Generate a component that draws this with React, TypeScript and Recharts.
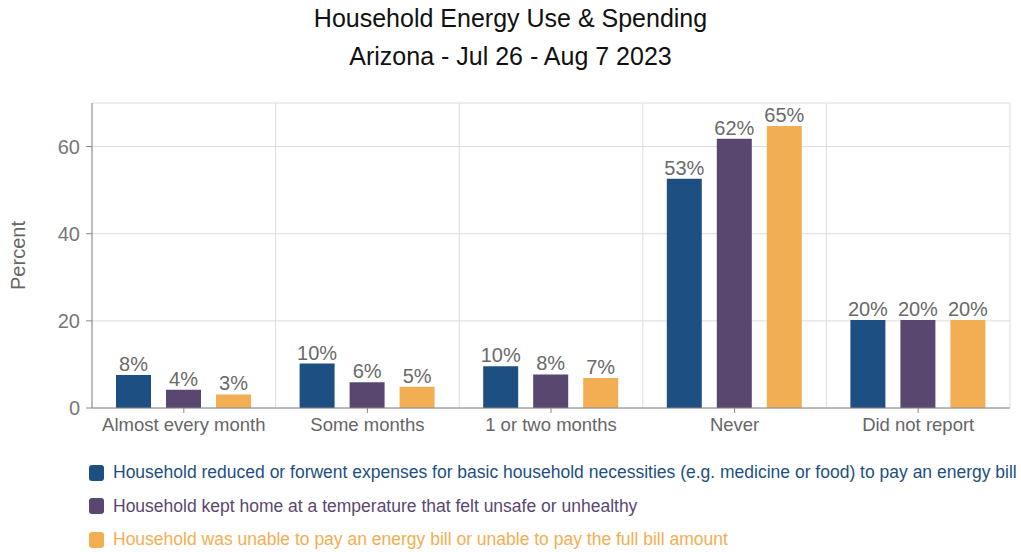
import { BarChart, Bar, XAxis, YAxis, CartesianGrid, LabelList } from 'recharts';

const categories = ['Almost every month', 'Some months', '1 or two months', 'Never', 'Did not report'];
const reducedExpenses = [7.6, 10.2, 9.6, 52.6, 20.2];
const unsafeTemperature = [4.2, 5.9, 7.7, 61.8, 20.2];
const unableToPay = [3.1, 4.9, 6.9, 64.7, 20.2];
const yTicks = [0, 20, 40, 60];

const seriesInfo = [
  { key: 'reduced', name: 'Household reduced or forwent expenses for basic household necessities (e.g. medicine or food) to pay an energy bill', color: '#1d4f83' },
  { key: 'unsafe', name: 'Household kept home at a temperature that felt unsafe or unhealthy', color: '#59476f' },
  { key: 'unable', name: 'Household was unable to pay an energy bill or unable to pay the full bill amount', color: '#f2ae53' },
];

const data = categories.map((c, i) => ({
  category: c,
  reduced: reducedExpenses[i],
  unsafe: unsafeTemperature[i],
  unable: unableToPay[i],
}));

const font = 'Liberation Sans, Arial, sans-serif';

export default function App() {
  return (
    <div style={{ position: 'absolute', left: 0, top: 0, width: 1021, height: 552, background: '#fff', fontFamily: font }}>
      <div style={{ position: 'absolute', top: 4, width: 1021, textAlign: 'center', fontSize: 25, color: '#111' }}>
        Household Energy Use &amp; Spending
      </div>
      <div style={{ position: 'absolute', top: 42, width: 1021, textAlign: 'center', fontSize: 25, color: '#111' }}>
        Arizona - Jul 26 - Aug 7 2023
      </div>
      <BarChart
        width={1021}
        height={552}
        data={data}
        margin={{ top: 103, right: 11, bottom: 114, left: 30 }}
        barSize={35}
        barGap={15}
      >
        <CartesianGrid
          stroke="#dcdcdc"
          verticalCoordinatesGenerator={({ offset }: any) =>
            categories.map((_, i) => offset.left + (i * offset.width) / categories.length).concat(offset.left + offset.width)
          }
        />
        <XAxis
          dataKey="category"
          height={30}
          stroke="#888"
          tickSize={5}
          tick={{ fill: '#666', fontSize: 18.5, fontFamily: font }}
          tickMargin={5}
        />
        <YAxis
          width={62}
          domain={[0, 70]}
          ticks={yTicks}
          stroke="#888"
          tickSize={6}
          tickMargin={6}
          tick={{ fill: '#777', fontSize: 20, fontFamily: font }}
          label={{ value: 'Percent', angle: -90, position: 'insideLeft', offset: -12, style: { fill: '#666', fontSize: 20, fontFamily: font, textAnchor: 'middle' } }}
        />
        {seriesInfo.map((s) => (
          <Bar key={s.key} dataKey={s.key} name={s.name} fill={s.color} isAnimationActive={false}>
            <LabelList
              dataKey={s.key}
              position="top"
              offset={4}
              formatter={(v: any) => `${Math.round(Number(v))}%`}
              style={{ fill: '#6a6a6a', fontSize: 20, fontFamily: font }}
            />
          </Bar>
        ))}
      </BarChart>
      <div style={{ position: 'absolute', left: 89, top: 456 }}>
        {seriesInfo.map((s) => (
          <div key={s.key} style={{ display: 'flex', alignItems: 'center', height: 33.5 }}>
            <div style={{ width: 15, height: 16, borderRadius: 3, background: s.color, marginRight: 9 }} />
            <span style={{ color: s.color, fontSize: 17.5, fontFamily: font, whiteSpace: 'nowrap' }}>{s.name}</span>
          </div>
        ))}
      </div>
    </div>
  );
}
